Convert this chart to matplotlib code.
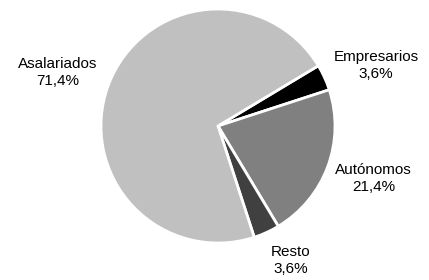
import matplotlib
matplotlib.use("Agg")
import matplotlib.pyplot as plt

categories = ["Empresarios", "Autónomos", "Resto", "Asalariados"]
values = [3.6, 21.4, 3.6, 71.4]
value_labels = ["3,6%", "21,4%", "3,6%", "71,4%"]
colors = ["#000000", "#808080", "#404040", "#c0c0c0"]
label_pos = [(1.35, 0.52), (1.33, -0.45), (0.62, -1.15), (-1.37, 0.46)]

plt.rcParams['font.family'] = ['Liberation Sans', 'DejaVu Sans']
fig = plt.figure(figsize=(4.29, 2.80), dpi=100)
ax = fig.add_axes([0.2354, 0.132, 0.5455, 0.836])
ax.pie(values, colors=colors, startangle=31, counterclock=False,
       wedgeprops=dict(edgecolor="white", linewidth=2), radius=1.0)
ax.set_xlim(-1, 1)
ax.set_ylim(-1, 1)
ax.set_aspect('equal')
for cat, lab, (x, y) in zip(categories, value_labels, label_pos):
    ax.text(x, y, f"{cat}\n{lab}", ha="center", va="center", fontsize=11,
            linespacing=1.3, color="#000000", clip_on=False)
ax.axis('off')
fig.savefig("out.png", dpi=100)
